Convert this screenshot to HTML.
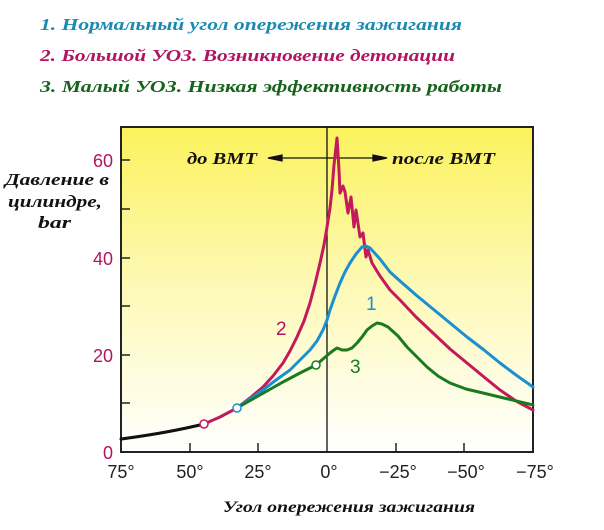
<!DOCTYPE html>
<html><head><meta charset="utf-8"><style>
html,body{margin:0;padding:0;background:#fff;width:604px;height:530px;overflow:hidden}
</style></head><body>
<svg width="604" height="530" viewBox="0 0 604 530" xmlns="http://www.w3.org/2000/svg">
<defs>
<linearGradient id="g" x1="0" y1="0" x2="0" y2="1">
<stop offset="0" stop-color="#fbf25c"/>
<stop offset="0.5" stop-color="#fdf9b8"/>
<stop offset="1" stop-color="#ffffff"/>
</linearGradient>
</defs>
<g font-family="'Liberation Serif','DejaVu Serif',serif" font-style="italic" font-weight="bold" font-size="17">
<text x="40" y="30" fill="#1a8ab0" textLength="422" lengthAdjust="spacingAndGlyphs">1. Нормальный угол опережения зажигания</text>
<text x="40" y="61" fill="#b0155e" textLength="415" lengthAdjust="spacingAndGlyphs">2. Большой УОЗ. Возникновение детонации</text>
<text x="40" y="92" fill="#16631c" textLength="462" lengthAdjust="spacingAndGlyphs">3. Малый УОЗ. Низкая эффективность работы</text>
</g>
<rect x="121" y="127" width="412" height="325" fill="url(#g)" stroke="#222" stroke-width="2"/>
<line x1="327" y1="127" x2="327" y2="452" stroke="#111" stroke-width="1.3"/>
<g stroke="#222" stroke-width="1.5">
<line x1="121" y1="160" x2="130" y2="160"/><line x1="121" y1="209" x2="130" y2="209"/>
<line x1="121" y1="258" x2="130" y2="258"/><line x1="121" y1="306" x2="130" y2="306"/>
<line x1="121" y1="355" x2="130" y2="355"/><line x1="121" y1="403" x2="130" y2="403"/>
<line x1="190" y1="452" x2="190" y2="443"/><line x1="258" y1="452" x2="258" y2="443"/>
<line x1="396" y1="452" x2="396" y2="443"/><line x1="464" y1="452" x2="464" y2="443"/>
</g>
<g font-family="'Liberation Sans',sans-serif" font-size="18" fill="#b0155e" text-anchor="end">
<text x="113" y="167">60</text><text x="113" y="265">40</text><text x="113" y="362">20</text><text x="113" y="459">0</text>
</g>
<g font-family="'Liberation Sans',sans-serif" font-size="18" fill="#222" text-anchor="middle">
<text x="121" y="478">75°</text><text x="190" y="478">50°</text><text x="258" y="478">25°</text>
<text x="329" y="478">0°</text><text x="398" y="478">−25°</text><text x="466" y="478">−50°</text><text x="535" y="478">−75°</text>
</g>
<g font-family="'Liberation Serif','DejaVu Serif',serif" font-style="italic" font-weight="bold" fill="#111">
<text x="5" y="185" font-size="17" textLength="104" lengthAdjust="spacingAndGlyphs">Давление в</text>
<text x="8" y="207" font-size="17" textLength="94" lengthAdjust="spacingAndGlyphs">цилиндре,</text>
<text x="38" y="228" font-size="17" textLength="33" lengthAdjust="spacingAndGlyphs">bar</text>
<text x="187" y="164" font-size="17" textLength="70" lengthAdjust="spacingAndGlyphs">до ВМТ</text>
<text x="392" y="164" font-size="17" textLength="103" lengthAdjust="spacingAndGlyphs">после ВМТ</text>
<text x="223" y="512" font-size="16" textLength="252" lengthAdjust="spacingAndGlyphs">Угол опережения зажигания</text>
</g>
<g stroke="#111" stroke-width="1.3" fill="#111">
<line x1="275" y1="158" x2="380" y2="158"/>
<polygon points="268,158 282,155 282,161"/><polygon points="387,158 373,155 373,161"/>
</g>
<g fill="none" stroke-width="3" stroke-linejoin="round" stroke-linecap="round">
<path d="M121,439 Q167,433 204,424" stroke="#111"/>
<polyline points="204,424 220,417 237,408 250,398 263,387 273,376 283,363 290,351 297,337 304,321 310,303 315,284 320,263 324,245 327,227 330,208 332,190 334,165 337,138 339,170 340,193 343,186 345,192 348,213 351,197 354,227 356,210 360,237 363,233 366,257 368,250 372,263 380,276 390,290 400,300 416,317 433,333 450,349 467,363 484,377 500,390 516,401 533,410" stroke="#c21a5a"/>
<polyline points="237,408 250,399 263,390 276,380 290,370 300,360 310,350 317,341 323,330 327,320 330,310 335,296 340,283 345,272 350,263 356,254 362,247 366,246 370,248 380,259 390,272 400,281 416,295 433,309 450,323 467,337 484,350 500,363 516,375 533,387" stroke="#1a90d0"/>
<polyline points="237,408 251,400 267,391 283,382 300,373 316,365 323,359 330,353 334,350 337,348 342,350 347,350 352,348 357,343 362,337 367,330 372,326 377,323 382,324 388,327 398,336 407,347 417,357 427,367 438,376 450,383 466,389 483,393 508,399 533,405" stroke="#1a7a1f"/>
</g>
<circle cx="204" cy="424" r="4" fill="#fff" stroke="#c21a5a" stroke-width="1.5"/>
<circle cx="237" cy="408" r="4" fill="#fff" stroke="#1a90d0" stroke-width="1.5"/>
<circle cx="316" cy="365" r="4" fill="#fff" stroke="#1a7a1f" stroke-width="1.5"/>
<g font-family="'Liberation Sans',sans-serif" font-size="19">
<text x="276" y="335" fill="#b0155e">2</text>
<text x="366" y="310" fill="#1a90d0">1</text>
<text x="350" y="373" fill="#1a7a1f">3</text>
</g>
</svg>
</body></html>
